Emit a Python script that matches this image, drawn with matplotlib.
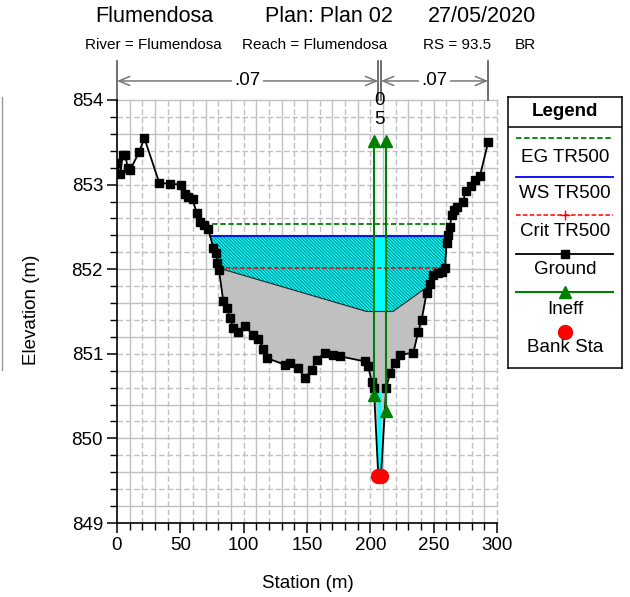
import numpy as np
import matplotlib.pyplot as plt
import matplotlib.ticker as ticker
from matplotlib.lines import Line2D

# ── data ──────────────────────────────────────────────────────────────────────
ground_x = [0, 2.5, 4.5, 6.5, 8.5, 10.3, 17.6, 21.6, 33.4, 41.8, 50.5, 53.7,
            56.3, 59.7, 62.9, 65.5, 68.7, 72.0, 76.0, 78.1, 79.2, 80.5, 83.9,
            86.6, 89.2, 91.8, 95.7, 101.0, 107.6, 111.5, 115.5, 118.2, 132.6,
            136.5, 143.1, 148.4, 153.7, 157.6, 164.2, 170.7, 176.0, 195.7,
            198.4, 201.0, 202.8, 206.3, 208.4, 212.5, 215.5, 219.4, 223.4,
            233.9, 237.8, 240.5, 244.4, 247.0, 249.7, 253.6, 256.5, 258.9,
            260.2, 261.5, 262.8, 264.2, 266.0, 268.1, 273.3, 275.2, 279.2,
            283.0, 286.5, 293.0]
ground_y = [853.25, 853.12, 853.35, 853.35, 853.20, 853.17, 853.39, 853.55,
            853.02, 853.01, 853.00, 852.89, 852.85, 852.83, 852.66, 852.56,
            852.52, 852.48, 852.25, 852.19, 852.07, 851.99, 851.62, 851.54,
            851.42, 851.30, 851.26, 851.33, 851.22, 851.18, 851.06, 850.95,
            850.87, 850.89, 850.83, 850.71, 850.81, 850.93, 851.01, 850.99,
            850.97, 850.91, 850.85, 850.67, 850.60, 849.55, 849.55, 850.60,
            850.77, 850.89, 850.99, 851.01, 851.26, 851.40, 851.72, 851.83,
            851.93, 851.95, 851.97, 852.01, 852.31, 852.40, 852.50, 852.64,
            852.70, 852.74, 852.80, 852.92, 852.98, 853.05, 853.10, 853.50]

ws_elev = 852.39
ws_x = [73.4, 262.8]
eg_elev = 852.53
eg_x = [68.9, 262.3]
crit_elev = 852.01
crit_x = [80.5, 258.9]

# bottom of the flow area (top of grey fill)
flow_bot_x = [81.0, 197.0, 218.0, 246.0]
flow_bot_y = [852.01, 851.50, 851.50, 851.80]

ineff_x = [202.9, 212.4]
ineff_lo = [850.51, 850.32]
ineff_hi = [853.52, 853.52]

bank_x = [206.3, 208.4]
bank_y = [849.55, 849.55]

n_bounds = [0, 206.3, 208.4, 293.0]
n_vals = [".07", ".05", ".07"]

legend_items = ["EG TR500", "WS TR500", "Crit TR500", "Ground", "Ineff", "Bank Sta"]

# ── figure ────────────────────────────────────────────────────────────────────
plt.rcParams.update({
    "font.family": ["Liberation Sans", "DejaVu Sans"],
    "font.size": 13,
    "hatch.linewidth": 0.7,
})

CYAN = "#00ffff"
GREEN = "#008000"
GREY = "#c0c0c0"

fig = plt.figure(figsize=(6.3, 5.97), dpi=100)
ax = fig.add_axes([117 / 630, 74 / 597, 380 / 630, 423 / 597])
ax.set_xlim(0, 300)
ax.set_ylim(849, 854)

# grid, alternating solid / dashed like HEC-RAS
for i, xv in enumerate(np.arange(10, 301, 10)):
    ls = "-" if i % 2 == 0 else (0, (4, 2))
    ax.axvline(xv, color=GREY, lw=1, ls=ls, zorder=0, clip_on=False)
for i, yv in enumerate(np.arange(849.2, 854.01, 0.2)):
    ls = "-" if i % 2 == 0 else (0, (4, 2))
    ax.axhline(yv, color=GREY, lw=1, ls=ls, zorder=0, clip_on=False)

gx = np.array(ground_x)
gy = np.array(ground_y)

# grey fill between flow bottom and ground
xs = np.union1d(np.linspace(flow_bot_x[0], flow_bot_x[-1], 800),
                gx[(gx >= flow_bot_x[0]) & (gx <= flow_bot_x[-1])])
g = np.interp(xs, gx, gy)
b = np.interp(xs, flow_bot_x, flow_bot_y)
ax.fill_between(xs, g, b, where=b >= g, interpolate=True,
                color=GREY, lw=0, zorder=1)

# hatched water (ineffective) area
xs2 = np.union1d(np.linspace(ws_x[0], ws_x[1], 1200),
                 gx[(gx >= ws_x[0]) & (gx <= ws_x[1])])
g2 = np.interp(xs2, gx, gy)
in_fb = (xs2 >= flow_bot_x[0]) & (xs2 <= flow_bot_x[-1])
b2 = np.where(in_fb, np.interp(xs2, flow_bot_x, flow_bot_y), -np.inf)
low2 = np.maximum(g2, b2)
ax.fill_between(xs2, low2, ws_elev, where=low2 <= ws_elev, interpolate=True,
                facecolor=CYAN, edgecolor="#008080", hatch="\\" * 10,
                lw=0, zorder=2)

# active flow strip between the ineffective limits
xs3 = np.linspace(ineff_x[0], ineff_x[1], 50)
low3 = np.maximum(np.interp(xs3, gx, gy), np.interp(xs3, flow_bot_x, flow_bot_y))
ax.fill_between(xs3, low3, ws_elev, color=CYAN, lw=0, zorder=2.5)

# water in the narrow channel (thin strip between the bank stations)
ax.fill_between(bank_x, bank_y, [850.55, 850.55], color=CYAN, lw=0, zorder=2.5)

ax.plot(flow_bot_x, flow_bot_y, color="#202020", lw=0.8, zorder=3)

# water surface lines
ax.plot(eg_x, [eg_elev, eg_elev], color=GREEN, lw=1.3, ls=(0, (3, 1.5)), zorder=4)
ax.plot(ws_x, [ws_elev, ws_elev], color="#0000ff", lw=1.3, zorder=4)
ax.plot(crit_x, [crit_elev, crit_elev], color="#ff0000", lw=1.1,
        ls=(0, (3, 1.5)), zorder=4)

# ground
ax.plot(gx, gy, color="black", lw=1.3, marker="s", markersize=5.5, zorder=5)

# ineffective flow limits
for xi, lo, hi in zip(ineff_x, ineff_lo, ineff_hi):
    ax.plot([xi, xi], [lo, hi], color=GREEN, lw=1.5, marker="^",
            markersize=8, zorder=6)

# bank stations
ax.plot(bank_x, bank_y, ls="none", marker="o", color="#ff0000",
        markersize=10, zorder=7)

# axes styling
for s in ["top", "right"]:
    ax.spines[s].set_visible(False)
ax.spines["left"].set_linewidth(1.2)
ax.spines["bottom"].set_linewidth(1.2)
ax.xaxis.set_major_locator(ticker.MultipleLocator(50))
ax.xaxis.set_minor_locator(ticker.MultipleLocator(10))
ax.yaxis.set_major_locator(ticker.MultipleLocator(1))
ax.yaxis.set_minor_locator(ticker.MultipleLocator(0.2))
ax.tick_params(which="major", length=7, width=1.1, labelsize=13.5, pad=3)
ax.tick_params(which="minor", length=5, width=1.0)
ax.yaxis.set_major_formatter(ticker.FormatStrFormatter("%d"))

# Manning's n annotations above the plot
trans = ax.get_xaxis_transform()
for xb in n_bounds:
    ax.plot([xb, xb], [1.0, 1.092], transform=trans, color="#555555",
            lw=1.2, clip_on=False)
for (x0, x1), lab in zip([(n_bounds[0], n_bounds[1]), (n_bounds[2], n_bounds[3])],
                         [n_vals[0], n_vals[2]]):
    ax.annotate("", xy=(x1, 1.045), xytext=(x0, 1.045), xycoords=trans,
                textcoords=trans, annotation_clip=False,
                arrowprops=dict(arrowstyle="<->,head_length=0.6,head_width=0.25",
                                color="#777777", lw=1.1, shrinkA=0, shrinkB=0))
    ax.text((x0 + x1) / 2, 1.045, lab, transform=trans, ha="center",
            va="center", fontsize=13.5,
            bbox=dict(facecolor="white", edgecolor="none", pad=1.5))
xmid = (n_bounds[1] + n_bounds[2]) / 2
ax.text(xmid, 0.998, n_vals[1][1], transform=trans, ha="center", va="center",
        fontsize=13.5, zorder=8)
ax.text(xmid, 0.953, n_vals[1][2], transform=trans, ha="center", va="center",
        fontsize=13.5, zorder=8)

# titles and axis labels
fig.text(95 / 630, 1 - 17 / 597, "Flumendosa", fontsize=15.5, va="center")
fig.text(265 / 630, 1 - 17 / 597, "Plan: Plan 02", fontsize=15.5, va="center")
fig.text(428 / 630, 1 - 17 / 597, "27/05/2020", fontsize=15.5, va="center")
fig.text(85 / 630, 1 - 45 / 597, "River = Flumendosa", fontsize=11, va="center")
fig.text(242 / 630, 1 - 45 / 597, "Reach = Flumendosa", fontsize=11, va="center")
fig.text(423 / 630, 1 - 45 / 597, "RS = 93.5", fontsize=11, va="center")
fig.text(515 / 630, 1 - 45 / 597, "BR", fontsize=11, va="center")
fig.text(308 / 630, 1 - 583 / 597, "Station (m)", fontsize=13.5,
         ha="center", va="center")
fig.text(31 / 630, 1 - 310 / 597, "Elevation (m)", fontsize=13.5,
         ha="center", va="center", rotation=90)

# stray frame line at the left edge of the original
fig.add_artist(Line2D([1.5 / 630, 1.5 / 630], [1 - 97 / 597, 1 - 370 / 597],
                      color="#999999", lw=1))

# ── legend box (drawn by hand, HEC-RAS style) ────────────────────────────────
leg = fig.add_axes([508 / 630, 1 - 368 / 597, 114 / 630, 271 / 597])
leg.set_xlim(508, 622)
leg.set_ylim(368, 97)
leg.set_xticks([])
leg.set_yticks([])
for s in leg.spines.values():
    s.set_linewidth(1.1)
leg.text(565, 112, "Legend", ha="center", va="center", fontsize=13.5,
         fontweight="bold")
leg.plot([508, 622], [127, 127], color="black", lw=1.1)

sample_y = [138, 177, 215, 254, 292, 332]
text_y = [157, 194, 232, 270, 309, 348]
leg.plot([516, 613], [sample_y[0]] * 2, color=GREEN, lw=1.3, ls=(0, (3, 1.5)))
leg.plot([516, 613], [sample_y[1]] * 2, color="#0000ff", lw=1.3)
leg.plot([516, 613], [sample_y[2]] * 2, color="#ff0000", lw=1.1, ls=(0, (3, 1.5)))
leg.plot([565], [sample_y[2]], color="#ff0000", marker="+", markersize=7)
leg.plot([516, 613], [sample_y[3]] * 2, color="black", lw=1.3)
leg.plot([565], [sample_y[3]], color="black", marker="s", markersize=6)
leg.plot([516, 613], [sample_y[4]] * 2, color=GREEN, lw=1.5)
leg.plot([565], [sample_y[4]], color=GREEN, marker="^", markersize=9)
leg.plot([565], [sample_y[5]], color="#ff0000", marker="o", markersize=10)
for lab, ty in zip(legend_items, text_y):
    leg.text(565, ty, lab, ha="center", va="center", fontsize=13.5)

fig.savefig("out.png", dpi=100)
